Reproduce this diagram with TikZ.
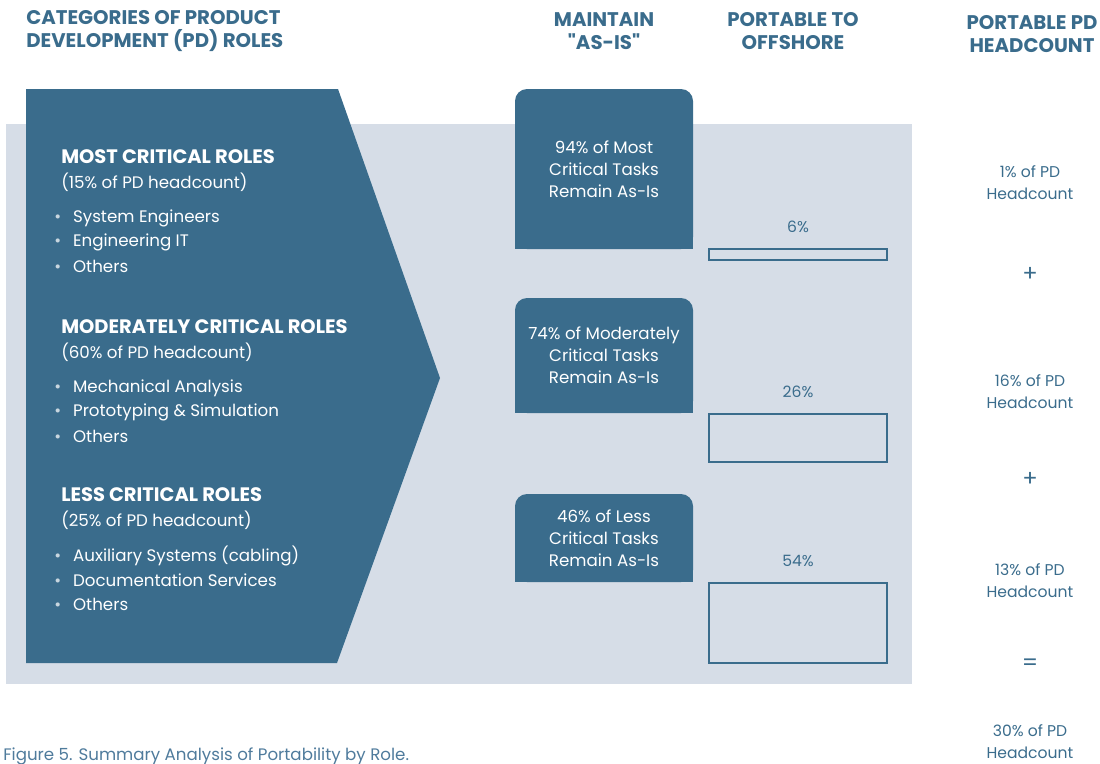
\documentclass[tikz,border=0pt]{standalone}
\usepackage{fontspec}
\setmainfont{Poppins}
\newfontfamily\plainquote{Poppins}
\usetikzlibrary{calc,fit,positioning,backgrounds}
\definecolor{pdblue}{HTML}{3A6C8C}
\definecolor{pdpale}{HTML}{D6DDE7}
\definecolor{pdcap}{HTML}{4F7B9C}
\tikzset{colhead/.style={font=\bfseries\fontsize{14.8}{17.25}\selectfont,text=pdblue,align=center,inner sep=0pt},
keepbox/.style={fill=pdblue,rounded corners=9pt,inner sep=0pt},
portbar/.style={draw=pdblue,line width=2.2pt,inner sep=0pt}}

\begin{document}
\begin{tikzpicture}[x=0.75pt,y=-0.75pt,node distance=6pt and 6pt,font=\fontsize{12.5}{16.5}\selectfont]

\tikzset{rolehead/.style={font=\bfseries\fontsize{14.6}{17}\selectfont,text=white,anchor=west,inner sep=0pt},
rolesub/.style={text=white,anchor=west,inner sep=0pt},
roleitem/.style={text=white,anchor=west,inner sep=0pt},
keeptext/.style={text=white,align=center,inner sep=0pt},
pctlabel/.style={text=pdblue,font=\fontsize{11.7}{16.5}\selectfont,inner sep=0pt},
countlabel/.style={text=pdblue,font=\fontsize{11.7}{16.5}\selectfont,align=center,inner sep=0pt},
opsign/.style={text=pdblue,font=\fontsize{17}{17}\selectfont,inner sep=0pt}}

\useasboundingbox (0,0) rectangle (1100,764);

% Pale panel
\fill[pdpale] (6,124) rectangle (912,684);

% Column heads
\node[colhead,align=left,anchor=west] (catHead) at (26,31.5) {CATEGORIES OF PRODUCT\\DEVELOPMENT (PD) ROLES};
\node[colhead] (keepHead) at (604,31.5) {MAINTAIN\\{\plainquote\bfseries "AS-IS"}};
\node[colhead] (portHead) at (793,31.5) {PORTABLE TO\\OFFSHORE};
\node[colhead] (countHead) at (1032,34) {PORTABLE PD\\HEADCOUNT};

% Role chevron
\coordinate (chevNW) at (26,89);
\coordinate (chevNE) at (338,89);
\coordinate (chevTip) at (440,378);
\coordinate (chevSE) at (337,663);
\coordinate (chevSW) at (26,663);
\fill[pdblue] (chevNW) -- (chevNE) -- (chevTip) -- (chevSE) -- (chevSW) -- cycle;

% Role groups
\foreach \n/\y/\title/\share/\a/\b in {1/157/MOST CRITICAL ROLES/15/System Engineers/Engineering IT,
2/327/MODERATELY CRITICAL ROLES/60/Mechanical Analysis/Prototyping \& Simulation,
3/495/LESS CRITICAL ROLES/25/Auxiliary Systems (cabling)/Documentation Services} {
  \node[rolehead] (role\n) at (61,\y) {\title};
  \node[rolesub] (share\n) at ($(role\n.west) + (0,25)$) {(\share\% of PD headcount)};
  \node[roleitem] (item\n a) at ($(role\n.west) + (-7,61)$) {{\color{white!72!pdblue}\textbullet}\hspace{9pt}\a};
  \node[roleitem] (item\n b) at ($(role\n.west) + (-7,85)$) {{\color{white!72!pdblue}\textbullet}\hspace{9pt}\b};
  \node[roleitem] (item\n c) at ($(role\n.west) + (-7,109)$) {{\color{white!72!pdblue}\textbullet}\hspace{9pt}Others};
}

% Maintain as-is boxes
\node[keepbox,fit={(515,89) (693,249)}] (keep1) {};
\node[keepbox,fit={(515,298) (693,413)}] (keep2) {};
\node[keepbox,fit={(515,494) (693,582)}] (keep3) {};
\foreach \k in {1,2,3} \fill[pdblue] (keep\k.west) rectangle (keep\k.south east); % square bottoms
\node[keeptext] (keep1txt) at (keep1.center) {94\% of Most\\Critical Tasks\\Remain As-Is};
\node[keeptext] (keep2txt) at (keep2.center) {74\% of Moderately\\Critical Tasks\\Remain As-Is};
\node[keeptext] (keep3txt) at (keep3.center) {46\% of Less\\Critical Tasks\\Remain As-Is};

% Portable bars
\node[portbar,fit={(709,249) (887,260)}] (port1) {};
\node[portbar,fit={(709,414) (887,462)}] (port2) {};
\node[portbar,fit={(709,583) (887,663)}] (port3) {};
\node[pctlabel,above=11pt of port1] (pct1) {6\%};
\node[pctlabel,above=11pt of port2] (pct2) {26\%};
\node[pctlabel,above=11pt of port3] (pct3) {54\%};

% Headcount column
\node[countlabel] (count1) at (1030,183) {1\% of PD\\Headcount};
\node[opsign] (plus1) at (1030,274) {+};
\node[countlabel] (count2) at (1030,392) {16\% of PD\\Headcount};
\node[opsign] (plus2) at (1030,479) {+};
\node[countlabel] (count3) at (1030,581) {13\% of PD\\Headcount};
\node[opsign] (equals) at (1030,665) {=};
\node[countlabel] (count4) at (1030,742) {30\% of PD\\Headcount};

% Caption
\node[anchor=base west,text=pdcap,inner sep=0pt] (caption) at (3,760) {Figure 5. Summary Analysis of Portability by Role.};

\end{tikzpicture}
\end{document}
